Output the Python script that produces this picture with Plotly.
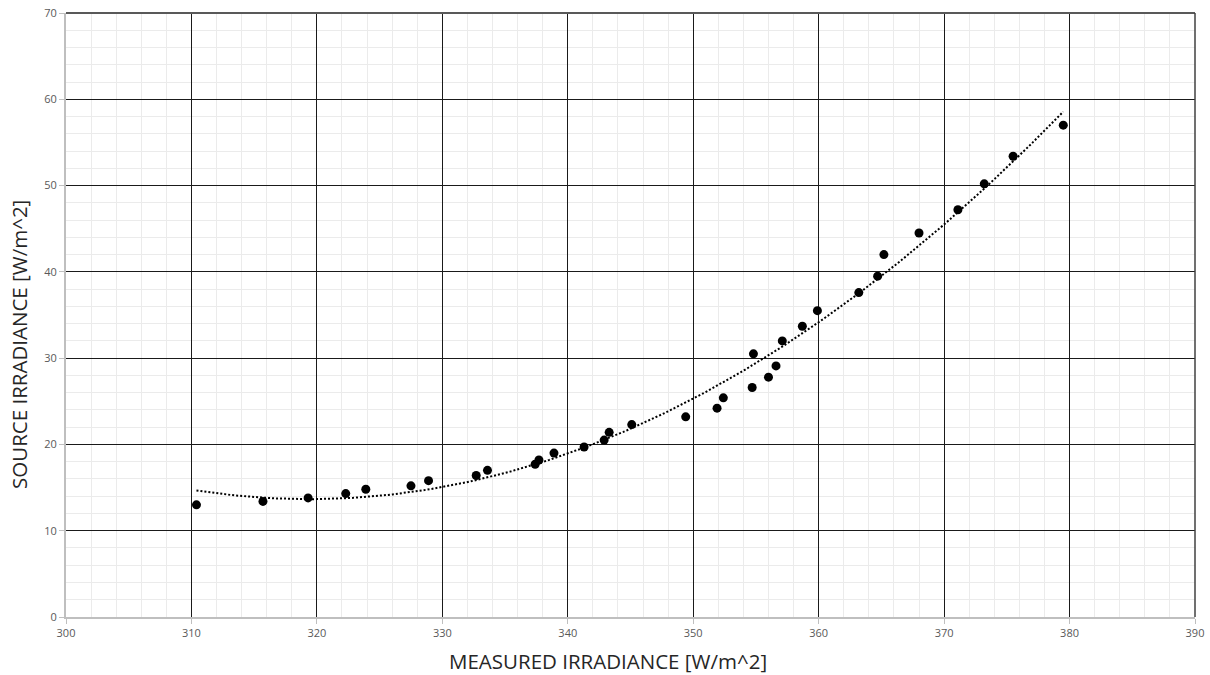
import numpy as np
import plotly.graph_objects as go

measured = [310.4, 315.7, 319.3, 322.3, 323.9, 327.5, 328.9, 332.7, 333.6, 337.4,
            337.7, 338.9, 341.3, 342.9, 343.3, 345.1, 349.4, 351.9, 352.4, 354.7,
            354.8, 356.0, 356.6, 357.1, 358.7, 359.9, 363.2, 364.7, 365.2, 368.0,
            371.1, 373.2, 375.5, 379.5]
source = [13.0, 13.4, 13.8, 14.3, 14.8, 15.2, 15.8, 16.4, 17.0, 17.7,
          18.2, 19.0, 19.7, 20.5, 21.4, 22.3, 23.2, 24.2, 25.4, 26.6,
          30.5, 27.8, 29.1, 32.0, 33.7, 35.5, 37.6, 39.5, 42.0, 44.5,
          47.2, 50.2, 53.4, 57.0]

x_title = "MEASURED IRRADIANCE [W/m^2]"
y_title = "SOURCE IRRADIANCE [W/m^2]"

# Polynomial (order 2) trendline computed from the data
coef = np.polyfit(measured, source, 2)
tx = np.linspace(min(measured), max(measured), 200)
ty = np.polyval(coef, tx)

fig = go.Figure()
fig.add_trace(go.Scatter(x=tx, y=ty, mode="lines",
                         line=dict(color="black", width=2, dash="2px,2px"),
                         hoverinfo="skip", showlegend=False))
fig.add_trace(go.Scatter(x=measured, y=source, mode="markers",
                         marker=dict(color="black", size=9),
                         showlegend=False))

tickfont = dict(family="Open Sans, Liberation Sans, sans-serif", size=11, color="#595959")
titlefont = dict(family="Open Sans, Liberation Sans, sans-serif", size=20.5, color="#262626")

W, H = 1210, 675
fig.update_layout(
    width=W, height=H,
    margin=dict(l=66, r=15, t=13, b=58),
    plot_bgcolor="white", paper_bgcolor="white",
    xaxis=dict(range=[300, 390], dtick=10, tick0=300, automargin=False,
               showgrid=True, gridcolor="#1a1a1a", gridwidth=1,
               minor=dict(dtick=2, showgrid=True, gridcolor="#ebebeb", gridwidth=1),
               showline=True, linecolor="#bfbfbf", linewidth=2,
               ticks="outside", ticklen=5, tickcolor="#bfbfbf",
               tickfont=tickfont, zeroline=False),
    yaxis=dict(range=[0, 70], dtick=10, tick0=0, automargin=False,
               showgrid=True, gridcolor="#1a1a1a", gridwidth=1,
               minor=dict(dtick=2, showgrid=True, gridcolor="#ebebeb", gridwidth=1),
               showline=True, linecolor="#bfbfbf", linewidth=2,
               ticks="outside", ticklen=5, tickcolor="#bfbfbf",
               tickfont=tickfont, zeroline=False),
    shapes=[
        dict(type="line", xref="paper", yref="paper", x0=0, x1=1, y0=1, y1=1,
             line=dict(color="#595959", width=2), layer="above"),
        dict(type="line", xref="paper", yref="paper", x0=1, x1=1, y0=0, y1=1,
             line=dict(color="#404040", width=1.5), layer="above"),
    ],
    annotations=[
        # axis titles placed as in the reference (Excel centres them off the plot centre)
        dict(text=x_title, font=titlefont, showarrow=False,
             xref="paper", yref="paper",
             x=(607.5 - 66) / (W - 66 - 15), y=-(660.5 - (H - 58)) / (H - 13 - 58),
             xanchor="center", yanchor="middle"),
        dict(text=y_title, font=titlefont, showarrow=False, textangle=-90,
             xref="paper", yref="paper",
             x=-(66 - 19) / (W - 66 - 15), y=(H - 58 - 345) / (H - 13 - 58),
             xanchor="center", yanchor="middle"),
    ],
)

fig.write_html("out.html", config={"displayModeBar": False},
               post_script="document.body.style.margin='0px';document.body.style.overflow='hidden';")
